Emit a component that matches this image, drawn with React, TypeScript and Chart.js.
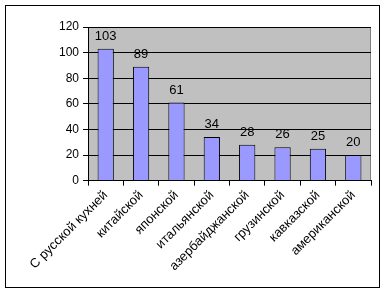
import React, { useEffect, useRef } from "react";
import { Chart, registerables } from "chart.js";

Chart.register(...registerables);

const categories = [
  "С русской кухней",
  "китайской",
  "японской",
  "итальянской",
  "азербайджанской",
  "грузинской",
  "кавказской",
  "американской",
];
const values = [103, 89, 61, 34, 28, 26, 25, 20];
const yTicks = [0, 20, 40, 60, 80, 100, 120];

const FONT = "'Liberation Sans', Arial, sans-serif";

const plotBg = {
  id: "plotBg",
  beforeDraw(chart: any) {
    const { ctx, chartArea } = chart;
    ctx.save();
    ctx.fillStyle = "#C0C0C0";
    ctx.fillRect(chartArea.left, chartArea.top, chartArea.right - chartArea.left, chartArea.bottom - chartArea.top);
    ctx.strokeStyle = "#808080";
    ctx.lineWidth = 1;
    ctx.beginPath();
    ctx.moveTo(Math.round(chartArea.left) + 0.5, Math.round(chartArea.top) + 0.5);
    ctx.lineTo(Math.round(chartArea.right) - 0.5, Math.round(chartArea.top) + 0.5);
    ctx.lineTo(Math.round(chartArea.right) - 0.5, Math.round(chartArea.bottom));
    ctx.stroke();
    ctx.restore();
  },
};

const valueLabels = {
  id: "valueLabels",
  afterDatasetsDraw(chart: any) {
    const { ctx } = chart;
    const meta = chart.getDatasetMeta(0);
    ctx.save();
    ctx.font = `13px ${FONT}`;
    ctx.fillStyle = "#000000";
    ctx.textAlign = "center";
    ctx.textBaseline = "bottom";
    meta.data.forEach((bar: any, i: number) => {
      ctx.fillText(String(values[i]), bar.x, bar.y - 6);
    });
    ctx.restore();
  },
};

export default function App() {
  const ref = useRef<HTMLCanvasElement>(null);
  useEffect(() => {
    if (!ref.current) return;
    const chart = new Chart(ref.current, {
      type: "bar",
      data: {
        labels: categories,
        datasets: [
          {
            data: values,
            backgroundColor: "#9999FF",
            borderColor: "#000000",
            borderWidth: 1,
            barPercentage: 0.46,
            categoryPercentage: 1,
          },
        ],
      },
      options: {
        animation: false,
        responsive: false,
        devicePixelRatio: 1,
        layout: { padding: { left: 55, right: 15, top: 27, bottom: 18 } },
        plugins: { legend: { display: false }, tooltip: { enabled: false } },
        scales: {
          x: {
            offset: true,
            grid: {
              offset: true,
              drawOnChartArea: false,
              drawTicks: true,
              tickLength: 5,
              color: "#000000",
            },
            border: { color: "#000000" },
            ticks: {
              minRotation: 45,
              maxRotation: 45,
              color: "#000000",
              font: { family: FONT, size: 13 },
              padding: 2,
              autoSkip: false,
            },
          },
          y: {
            min: 0,
            max: 120,
            afterBuildTicks(axis: any) {
              axis.ticks = yTicks.map((v) => ({ value: v }));
            },
            grid: { color: "#000000", tickLength: 5 },
            border: { color: "#000000" },
            ticks: {
              color: "#000000",
              font: { family: FONT, size: 12 },
              padding: 4,
            },
          },
        },
      },
      plugins: [plotBg, valueLabels],
    });
    return () => chart.destroy();
  }, []);
  return (
    <div style={{ position: "absolute", left: 0, top: 0, width: 386, height: 294, background: "#fff" }}>
      <div
        style={{
          position: "absolute",
          left: 5,
          top: 5,
          width: 373,
          height: 281,
          border: "1px solid #000",
        }}
      />
      <canvas ref={ref} width={386} height={294} style={{ position: "absolute", left: 0, top: 0 }} />
    </div>
  );
}
